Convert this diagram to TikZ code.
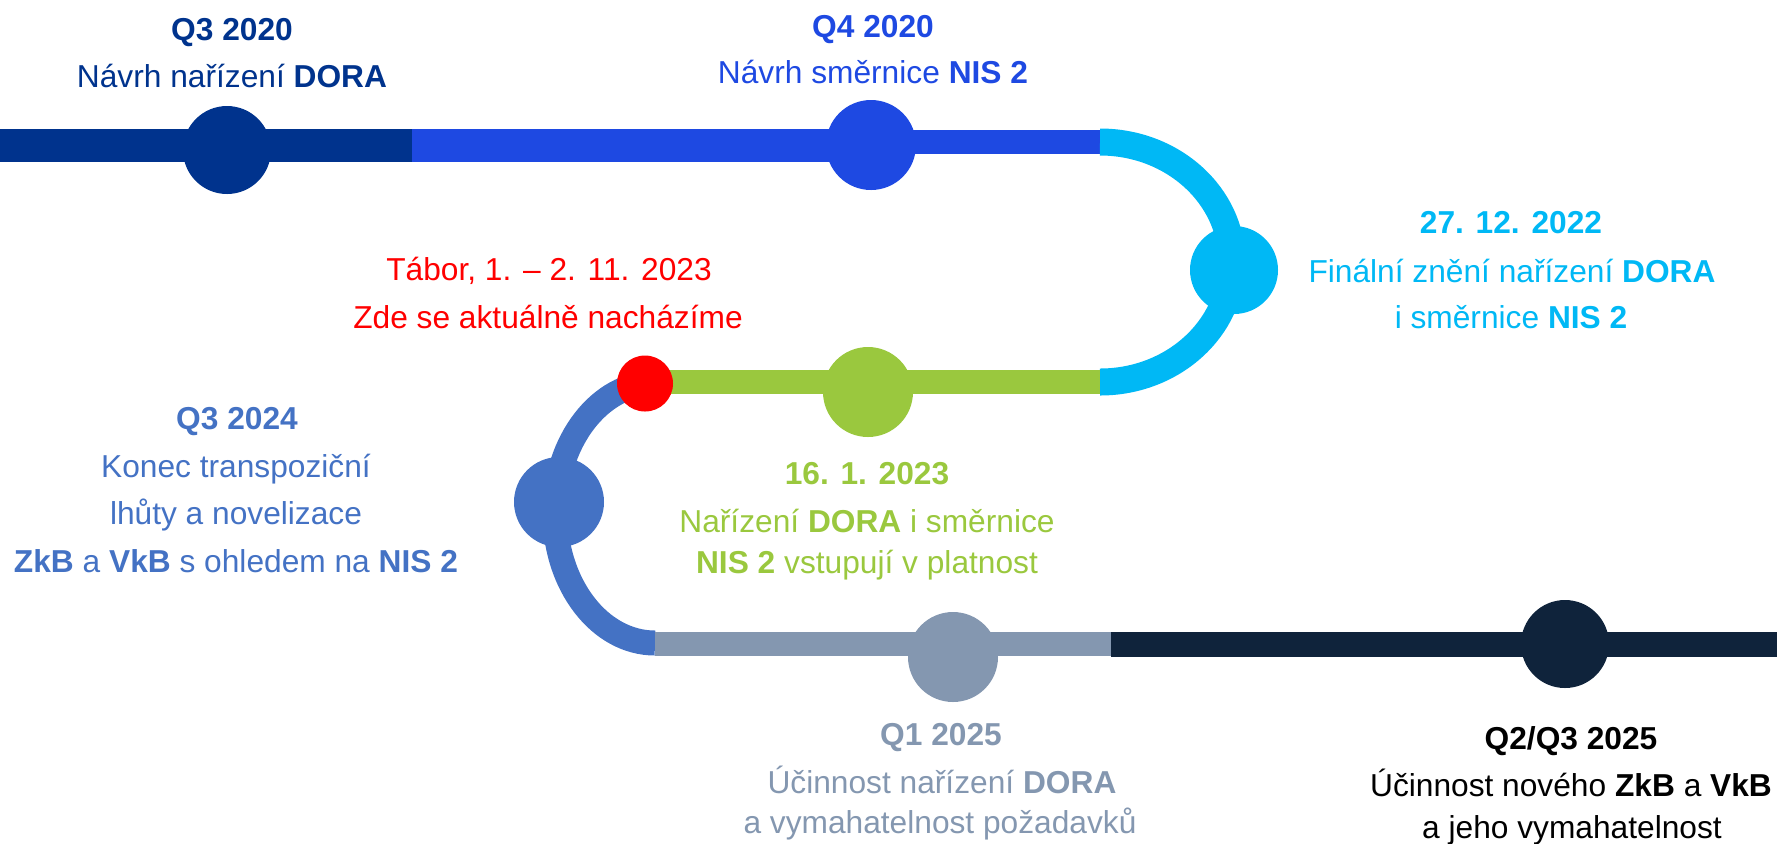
\documentclass[tikz,border=0pt]{standalone}
\usepackage{fontspec}
\setmainfont{Liberation Sans}
\definecolor{navyA}{RGB}{0,51,141}
\definecolor{blueB}{RGB}{30,73,226}
\definecolor{cyanC}{RGB}{0,184,245}
\definecolor{greenD}{RGB}{154,200,62}
\definecolor{redE}{RGB}{255,0,0}
\definecolor{blueF}{RGB}{68,114,196}
\definecolor{grayG}{RGB}{132,151,176}
\definecolor{navyH}{RGB}{15,35,59}
\begin{document}
\begin{tikzpicture}[x=0.5pt,y=-0.5pt,
  dot/.style={circle,fill=#1,draw=none,inner sep=0pt},
  lbl/.style={anchor=base,inner sep=0pt,font=\fontsize{15.85pt}{18pt}\selectfont},
  seg/.style={draw=#1,line cap=butt}]
\useasboundingbox (0,0) rectangle (1777,843);
% coordinates of segment ends
\coordinate (a0) at (0,145.5);
\coordinate (a1) at (412,145.5);
\coordinate (a2) at (871,145.5);
\coordinate (b1) at (871,142);
\coordinate (b2) at (1100,142);
\coordinate (c2) at (1100,382);
\coordinate (c1) at (645,382);
\coordinate (d0) at (655,383);
\coordinate (e0) at (655,644);
\coordinate (e1) at (1111,644);
\coordinate (e2) at (1777,644);
% segments
\draw[seg=navyA,line width=16.5pt] (a0) -- (a1);
\draw[seg=blueB,line width=16.5pt] (a1) -- (a2);
\draw[seg=blueB,line width=12pt] (b1) -- (b2);
\draw[seg=cyanC,line width=13.5pt] (b2) arc[start angle=90,end angle=-90,x radius=66pt,y radius=60pt];
\draw[seg=greenD,line width=11.75pt] (c1) -- (c2);
\draw[seg=blueF,line width=12.5pt] (d0) arc[start angle=90,end angle=270,x radius=50pt,y radius=65pt];
\draw[seg=grayG,line width=12pt] (e0) -- (e1);
\draw[seg=navyH,line width=12.5pt] (e1) -- (e2);
% milestones
\node[dot=navyA,minimum size=44pt] (m1) at (227,150) {};
\node[dot=blueB,minimum size=45pt] (m2) at (871,145) {};
\node[dot=cyanC,minimum size=44pt] (m3) at (1234,270) {};
\node[dot=greenD,minimum size=45pt] (m4) at (868,392) {};
\node[dot=redE,minimum size=28pt] (m5) at (645,383.5) {};
\node[dot=blueF,minimum size=45pt] (m6) at (559,502) {};
\node[dot=grayG,minimum size=45pt] (m7) at (953,657) {};
\node[dot=navyH,minimum size=44pt] (m8) at (1565,644) {};
% labels
\node[lbl,text=navyA] (t1a) at (232,40) {\textbf{Q3 2020}};
\node[lbl,text=navyA] (t1b) at (232,87) {Návrh nařízení \textbf{DORA}};
\node[lbl,text=blueB] (t2a) at (873,37) {\textbf{Q4 2020}};
\node[lbl,text=blueB] (t2b) at (873,83) {Návrh směrnice \textbf{NIS 2}};
\node[lbl,text=redE] (t5a) at (549,280) {Tábor, 1. – 2. 11. 2023};
\node[lbl,text=redE] (t5b) at (548,328) {Zde se aktuálně nacházíme};
\node[lbl,text=cyanC] (t3a) at (1511,233) {\textbf{27. 12. 2022}};
\node[lbl,text=cyanC] (t3b) at (1512,282) {Finální znění nařízení \textbf{DORA}};
\node[lbl,text=cyanC] (t3c) at (1511,328) {i směrnice \textbf{NIS 2}};
\node[lbl,text=blueF] (t6a) at (237,429) {\textbf{Q3 2024}};
\node[lbl,text=blueF] (t6b) at (236,477) {Konec transpoziční};
\node[lbl,text=blueF] (t6c) at (236,524) {lhůty a novelizace};
\node[lbl,text=blueF] (t6d) at (236,572) {\textbf{ZkB} a \textbf{VkB} s ohledem na \textbf{NIS 2}};
\node[lbl,text=greenD] (t4a) at (867,484) {\textbf{16. 1. 2023}};
\node[lbl,text=greenD] (t4b) at (867,532) {Nařízení \textbf{DORA} i směrnice};
\node[lbl,text=greenD] (t4c) at (867,573) {\textbf{NIS 2} vstupují v platnost};
\node[lbl,text=grayG] (t7a) at (941,745) {\textbf{Q1 2025}};
\node[lbl,text=grayG] (t7b) at (942,793) {Účinnost nařízení \textbf{DORA}};
\node[lbl,text=grayG] (t7c) at (940,833) {a vymahatelnost požadavků};
\node[lbl,text=black] (t8a) at (1571,749) {\textbf{Q2/Q3 2025}};
\node[lbl,text=black] (t8b) at (1571,796) {Účinnost nového \textbf{ZkB} a \textbf{VkB}};
\node[lbl,text=black] (t8c) at (1572,838) {a jeho vymahatelnost};
\end{tikzpicture}
\end{document}
